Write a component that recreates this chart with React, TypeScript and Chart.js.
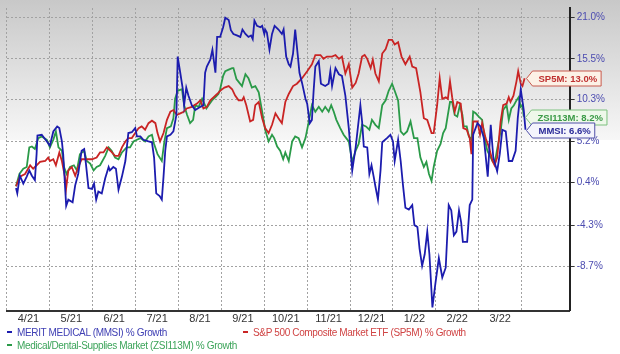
import React, { useEffect, useRef } from 'react';
import { Chart, registerables } from 'chart.js';

Chart.register(...registerables);

const FONT = '"Liberation Sans", Arial, Helvetica, sans-serif';

// x values are months since 1 Apr 2021; y values are % growth
const monthLabels = ['4/21', '5/21', '6/21', '7/21', '8/21', '9/21', '10/21', '11/21', '12/21', '1/22', '2/22', '3/22'];
const yTickLabels = [21.0, 15.5, 10.3, 5.2, 0.4, -4.3, -8.7];
const xMaxMonth = 13.12;
const yMinGrowth = -13.14;
const yMaxGrowth = 22.34;

const mmsiSeries: number[][] = [
  [0.21, -0.2], [0.24, -0.8], [0.30, 1.2], [0.38, 0.3], [0.46, 1.1], [0.52, 1.8], [0.58, 1.2], [0.65, 0.7], [0.69, 3.7], [0.71, 5.9],
  [0.81, 6.0], [0.93, 5.2], [1.00, 4.7], [1.08, 6.4], [1.17, 7.0], [1.22, 6.8], [1.28, 5.2], [1.31, 3.7], [1.38, -2.2], [1.43, -1.5],
  [1.53, -1.8], [1.59, 0.1], [1.66, 1.4], [1.74, 4.1], [1.80, 4.3], [1.84, 2.6], [1.90, -0.2], [1.98, -0.3], [2.03, 0.3], [2.08, -1.5],
  [2.13, -0.6], [2.21, -0.8], [2.29, 0.9], [2.37, 2.2], [2.40, 1.8], [2.48, 2.2], [2.54, 2.0], [2.60, -0.4], [2.68, 1.1], [2.76, 2.9],
  [2.83, 6.2], [2.91, 6.3], [2.99, 6.8], [3.03, 5.8], [3.11, 5.8], [3.18, 5.4], [3.30, 5.2], [3.38, 5.1], [3.43, 3.3], [3.48, -0.8],
  [3.56, -1.1], [3.61, -1.5], [3.65, 1.1], [3.69, 4.1], [3.73, 5.8], [3.81, 6.0], [3.88, 6.4], [3.95, 8.4], [3.98, 15.8], [4.04, 13.7],
  [4.10, 11.6], [4.13, 9.6], [4.18, 11.8], [4.23, 10.8], [4.31, 9.6], [4.39, 9.0], [4.51, 9.4], [4.58, 9.6], [4.62, 13.7], [4.66, 14.5],
  [4.74, 15.4], [4.79, 16.7], [4.86, 13.7], [4.90, 18.4], [4.97, 18.4], [5.04, 19.7], [5.09, 21.0], [5.17, 20.7], [5.22, 19.3], [5.28, 18.8],
  [5.36, 18.6], [5.44, 18.4], [5.49, 19.4], [5.56, 18.8], [5.63, 18.4], [5.69, 18.6], [5.73, 18.1], [5.77, 20.6], [5.83, 19.9], [5.91, 19.7],
  [5.95, 19.9], [6.00, 18.8], [6.02, 19.4], [6.06, 19.0], [6.12, 16.7], [6.18, 18.8], [6.24, 19.9], [6.33, 19.4], [6.41, 18.8], [6.45, 19.4],
  [6.51, 15.8], [6.57, 14.8], [6.61, 14.5], [6.67, 16.2], [6.72, 19.4], [6.78, 16.0], [6.82, 13.7], [6.88, 12.4], [6.96, 10.4], [7.00, 9.8],
  [7.06, 7.4], [7.11, 7.8], [7.15, 11.4], [7.19, 14.5], [7.27, 15.2], [7.32, 12.3], [7.42, 12.0], [7.50, 12.3], [7.54, 13.9], [7.58, 12.0],
  [7.66, 14.3], [7.74, 13.5], [7.81, 13.3], [7.89, 10.8], [7.97, 6.8], [8.05, 1.8], [8.13, 4.5], [8.24, 9.6], [8.28, 7.6], [8.32, 4.6],
  [8.40, 4.5], [8.45, 1.4], [8.50, 2.4], [8.55, 1.1], [8.59, 0.0], [8.65, -1.5], [8.71, 1.8], [8.75, 5.1], [8.86, 5.6], [8.94, 6.0],
  [9.00, 5.2], [9.04, 2.9], [9.12, 5.4], [9.18, 2.9], [9.23, 0.3], [9.29, -2.4], [9.37, -2.6], [9.45, -2.1], [9.50, -4.3], [9.57, -4.5],
  [9.62, -6.8], [9.68, -8.6], [9.74, -7.4], [9.80, -5.0], [9.85, -7.4], [9.92, -12.8], [9.99, -10.4], [10.07, -7.8], [10.15, -9.8], [10.23, -8.8],
  [10.30, -2.1], [10.36, -2.7], [10.42, -5.4], [10.48, -5.0], [10.54, -2.7], [10.59, -4.0], [10.63, -6.1], [10.73, -6.1], [10.79, -2.1], [10.85, -1.5],
  [10.87, 6.0], [10.97, 7.4], [11.04, 7.0], [11.12, 5.6], [11.21, 1.1], [11.28, 7.2], [11.34, 3.3], [11.39, 2.4], [11.43, 1.7], [11.49, 3.7],
  [11.55, 6.6], [11.63, 6.4], [11.70, 2.9], [11.78, 2.9], [11.86, 4.1], [11.91, 8.0], [11.98, 11.6], [12.05, 9.0], [12.09, 6.6],
];

const sp5mSeries: number[][] = [
  [0.21, 0.0], [0.30, 1.1], [0.42, 1.4], [0.54, 2.4], [0.61, 2.0], [0.69, 2.4], [0.77, 2.8], [0.89, 2.9], [0.96, 3.3], [1.00, 2.9],
  [1.08, 3.1], [1.14, 2.4], [1.22, 3.9], [1.28, 2.9], [1.35, 1.1], [1.38, -0.2], [1.43, 1.8], [1.51, 2.2], [1.59, 1.2], [1.66, 2.2],
  [1.74, 3.1], [1.86, 3.1], [1.98, 3.1], [2.09, 3.3], [2.17, 3.9], [2.25, 3.9], [2.33, 4.5], [2.41, 4.1], [2.52, 3.5], [2.60, 3.5],
  [2.68, 4.5], [2.76, 5.2], [2.83, 5.6], [2.91, 5.6], [2.99, 6.2], [3.07, 6.8], [3.14, 7.0], [3.22, 6.6], [3.30, 7.4], [3.38, 7.7],
  [3.46, 7.4], [3.51, 6.2], [3.57, 5.2], [3.65, 6.2], [3.73, 7.8], [3.81, 8.8], [3.88, 9.0], [3.96, 8.4], [4.04, 8.6], [4.12, 8.8],
  [4.19, 9.2], [4.31, 9.4], [4.43, 9.8], [4.51, 10.2], [4.58, 9.2], [4.66, 9.4], [4.74, 10.2], [4.82, 10.6], [4.90, 11.0], [4.97, 11.4],
  [5.07, 11.8], [5.17, 12.0], [5.25, 11.6], [5.32, 10.8], [5.40, 10.2], [5.48, 10.2], [5.52, 10.6], [5.58, 9.6], [5.67, 7.6], [5.74, 7.8],
  [5.79, 9.6], [5.87, 10.0], [5.95, 8.0], [6.02, 6.8], [6.10, 6.2], [6.18, 7.2], [6.26, 8.6], [6.33, 8.0], [6.41, 7.4], [6.49, 10.0],
  [6.57, 11.0], [6.67, 12.0], [6.76, 12.3], [6.88, 13.0], [7.00, 13.9], [7.11, 14.8], [7.19, 16.0], [7.31, 16.0], [7.38, 15.5], [7.46, 15.8],
  [7.58, 15.8], [7.66, 16.0], [7.74, 15.5], [7.81, 15.8], [7.89, 13.6], [7.97, 14.8], [8.05, 11.8], [8.13, 12.4], [8.20, 13.6], [8.28, 15.8],
  [8.34, 16.0], [8.40, 15.5], [8.48, 14.3], [8.53, 15.4], [8.59, 13.6], [8.67, 12.6], [8.75, 16.2], [8.83, 16.8], [8.90, 18.0], [8.98, 18.0],
  [9.04, 17.4], [9.12, 17.7], [9.20, 15.8], [9.29, 14.8], [9.39, 15.8], [9.45, 14.5], [9.54, 14.3], [9.64, 11.2], [9.72, 8.0], [9.80, 7.8],
  [9.90, 6.2], [9.95, 6.2], [10.03, 9.6], [10.09, 13.0], [10.15, 10.4], [10.23, 10.6], [10.28, 10.4], [10.33, 12.6], [10.38, 10.6], [10.44, 8.8],
  [10.50, 10.0], [10.58, 9.8], [10.64, 6.8], [10.72, 6.6], [10.79, 5.6], [10.83, 3.7], [10.87, 7.6], [10.97, 7.6], [11.03, 6.0], [11.08, 7.4],
  [11.16, 5.6], [11.24, 4.5], [11.32, 2.9], [11.37, 2.4], [11.43, 3.3], [11.51, 7.6], [11.57, 9.6], [11.65, 9.8], [11.70, 10.6], [11.74, 10.0],
  [11.81, 10.8], [11.88, 12.6], [11.92, 13.9], [11.98, 12.3], [12.02, 12.0], [12.07, 13.0],
];

const zsiSeries: number[][] = [
  [0.21, 0.0], [0.29, 1.4], [0.38, 2.0], [0.46, 2.2], [0.52, 4.5], [0.58, 4.6], [0.65, 4.3], [0.73, 5.6], [0.81, 5.8], [0.93, 5.4],
  [1.00, 4.5], [1.08, 5.4], [1.14, 6.4], [1.20, 4.5], [1.28, 4.1], [1.33, 2.2], [1.39, 1.4], [1.47, 2.2], [1.56, 2.4], [1.63, 1.8],
  [1.70, 3.7], [1.80, 4.1], [1.86, 2.9], [1.94, 2.6], [2.02, 1.8], [2.09, 2.2], [2.17, 2.4], [2.29, 3.5], [2.37, 4.5], [2.44, 4.1],
  [2.52, 3.3], [2.60, 3.1], [2.68, 3.9], [2.79, 4.5], [2.87, 4.5], [2.95, 5.2], [3.03, 5.4], [3.11, 5.6], [3.22, 5.2], [3.30, 5.8],
  [3.38, 6.0], [3.43, 4.9], [3.51, 3.7], [3.61, 2.9], [3.67, 5.2], [3.73, 6.8], [3.82, 7.0], [3.88, 8.0], [3.92, 10.4], [3.98, 11.4],
  [4.08, 11.6], [4.13, 9.6], [4.20, 8.4], [4.27, 7.4], [4.34, 7.8], [4.39, 9.6], [4.47, 9.4], [4.55, 10.4], [4.65, 9.2], [4.70, 9.6],
  [4.78, 10.2], [4.86, 10.6], [4.93, 11.0], [4.97, 11.6], [5.04, 13.3], [5.09, 13.9], [5.17, 14.1], [5.25, 14.3], [5.28, 14.3], [5.35, 12.9],
  [5.42, 12.4], [5.48, 12.0], [5.56, 13.5], [5.63, 13.0], [5.71, 11.8], [5.79, 12.0], [5.87, 11.2], [5.95, 8.8], [6.02, 6.6], [6.10, 5.2],
  [6.18, 6.0], [6.23, 5.6], [6.30, 4.6], [6.37, 4.1], [6.44, 3.1], [6.49, 3.9], [6.57, 2.9], [6.65, 5.2], [6.72, 5.8], [6.80, 5.6],
  [6.88, 4.5], [6.96, 5.6], [7.03, 7.4], [7.11, 9.6], [7.19, 8.8], [7.27, 9.4], [7.35, 8.8], [7.42, 9.4], [7.50, 8.8], [7.56, 9.6],
  [7.62, 8.8], [7.68, 7.8], [7.77, 6.8], [7.85, 6.0], [7.91, 5.6], [7.97, 5.2], [8.05, 2.8], [8.13, 4.1], [8.20, 4.9], [8.28, 7.2],
  [8.37, 7.0], [8.45, 6.6], [8.51, 7.8], [8.59, 7.2], [8.67, 6.8], [8.75, 9.6], [8.83, 10.2], [8.90, 11.4], [8.98, 12.3], [9.04, 11.4],
  [9.12, 10.2], [9.18, 6.4], [9.25, 6.0], [9.33, 6.4], [9.41, 7.6], [9.49, 5.6], [9.57, 5.6], [9.64, 3.3], [9.72, 2.2], [9.78, 2.8],
  [9.84, 1.4], [9.90, 0.6], [9.95, 2.2], [10.03, 4.1], [10.11, 4.9], [10.17, 6.2], [10.23, 6.8], [10.28, 8.4], [10.33, 10.0], [10.38, 10.0],
  [10.44, 8.4], [10.50, 8.2], [10.56, 9.6], [10.62, 8.4], [10.65, 7.0], [10.72, 7.0], [10.77, 5.8], [10.83, 5.4], [10.87, 8.8], [10.93, 8.6],
  [11.00, 8.2], [11.08, 7.8], [11.13, 5.8], [11.20, 4.1], [11.26, 3.5], [11.32, 2.9], [11.37, 2.6], [11.43, 4.3], [11.51, 6.4], [11.57, 9.0],
  [11.65, 9.6], [11.70, 7.8], [11.76, 9.2], [11.82, 9.6], [11.88, 10.2], [11.93, 10.6], [11.98, 9.4], [12.02, 9.6], [12.05, 8.2],
];

const seriesInfo = [
  {
    code: 'MMSI', name: 'MERIT MEDICAL (MMSI) % Growth', points: mmsiSeries,
    line: '#1c1cae', legendText: '#4040b4', tagText: '#2a2a98', tagFill: '#f4f4fc', tagBorder: '#5050a8',
  },
  {
    code: 'SP5M', name: 'S&P 500 Composite Market ETF (SP5M) % Growth', points: sp5mSeries,
    line: '#c92424', legendText: '#d04444', tagText: '#bf3030', tagFill: '#fcf1e6', tagBorder: '#c85a4e',
  },
  {
    code: 'ZSI113M', name: 'Medical/Dental-Supplies Market (ZSI113M) % Growth', points: zsiSeries,
    line: '#2a9a48', legendText: '#3ca45a', tagText: '#3a9a46', tagFill: '#eef8ea', tagBorder: '#7cc07e',
  },
];

const legendLayout = [
  { left: 7, top: 327 },
  { left: 243, top: 327 },
  { left: 7, top: 340 },
];

const bgPlugin = {
  id: 'zbg',
  beforeDraw(chart: any) {
    const { ctx, width, height } = chart;
    ctx.save();
    ctx.fillStyle = '#ffffff';
    ctx.fillRect(0, 0, width, height);
    const g = ctx.createLinearGradient(0, 0, 0, 140);
    g.addColorStop(0, '#c8c8c8');
    g.addColorStop(1, '#f7f7f7');
    ctx.fillStyle = g;
    ctx.fillRect(0, 0, width, 140);
    ctx.restore();
  },
};

const tagPlugin = {
  id: 'endTags',
  afterDatasetsDraw(chart: any) {
    const ctx = chart.ctx;
    ctx.save();
    ctx.font = `bold 9.5px ${FONT}`;
    ctx.textBaseline = 'middle';
    ctx.lineWidth = 1;
    [1, 2, 0].forEach((di) => {
      const s = seriesInfo[di];
      const meta = chart.getDatasetMeta(di);
      const el = meta.data[meta.data.length - 1];
      if (!el) return;
      const last = s.points[s.points.length - 1][1];
      const text = `${s.code}: ${last.toFixed(1)}%`;
      const tw = ctx.measureText(text).width;
      const x0 = Math.round(el.x) + 1.5;
      const y0 = Math.round(el.y) + 0.5;
      const h = 15;
      const tip = 6;
      const right = x0 + 12 + tw + 4;
      ctx.beginPath();
      ctx.moveTo(x0, y0);
      ctx.lineTo(x0 + tip, y0 - h / 2);
      ctx.lineTo(right, y0 - h / 2);
      ctx.lineTo(right, y0 + h / 2);
      ctx.lineTo(x0 + tip, y0 + h / 2);
      ctx.closePath();
      ctx.fillStyle = s.tagFill;
      ctx.fill();
      ctx.strokeStyle = s.tagBorder;
      ctx.stroke();
      ctx.fillStyle = s.tagText;
      ctx.fillText(text, x0 + 12, y0 + 0.5);
    });
    ctx.restore();
  },
};

export default function App() {
  const canvasRef = useRef<HTMLCanvasElement | null>(null);

  useEffect(() => {
    const canvas = canvasRef.current;
    if (!canvas) return;
    const chart = new Chart(canvas, {
      type: 'line',
      data: {
        datasets: seriesInfo.map((s) => ({
          label: s.name,
          data: s.points.map(([m, g]) => ({ x: m, y: 100 + g })),
          borderColor: s.line,
          backgroundColor: s.line,
          borderWidth: 1.8,
          pointRadius: 0,
          tension: 0,
          fill: false,
        })),
      },
      options: {
        responsive: false,
        animation: false,
        devicePixelRatio: 1,
        layout: { padding: { left: 7, right: 13, top: 0, bottom: 26 } },
        plugins: { legend: { display: false }, tooltip: { enabled: false } },
        scales: {
          x: {
            type: 'linear',
            min: 0,
            max: xMaxMonth,
            bounds: 'data',
            afterBuildTicks: (axis: any) => {
              axis.ticks = monthLabels.map((_, i) => ({ value: i + 0.5 }));
            },
            ticks: {
              autoSkip: false,
              maxRotation: 0,
              padding: 2,
              color: '#333333',
              font: { family: FONT, size: 11 },
              callback: (_v: any, i: number) => monthLabels[i],
            },
            grid: { offset: true, drawTicks: false, color: '#a2a2a2', lineWidth: 1 },
            border: { display: true, color: '#333333', width: 2, dash: [2, 2] },
          },
          y: {
            type: 'logarithmic',
            position: 'right',
            min: 100 + yMinGrowth,
            max: 100 + yMaxGrowth,
            bounds: 'data',
            afterBuildTicks: (axis: any) => {
              axis.ticks = yTickLabels.map((v) => ({ value: 100 + v }));
            },
            ticks: {
              padding: 2,
              color: '#4b4bb0',
              font: { family: FONT, size: 10 },
              callback: (v: any) => (Number(v) - 100).toFixed(1) + '%',
            },
            grid: {
              color: '#a2a2a2',
              lineWidth: 1,
              drawTicks: true,
              tickLength: 5,
              tickColor: '#333333',
              tickWidth: 1,
              tickBorderDash: [],
            },
            border: { display: true, color: '#222222', width: 2, dash: [2, 2] },
          },
        },
      } as any,
      plugins: [bgPlugin, tagPlugin],
    });
    return () => chart.destroy();
  }, []);

  return (
    <div style={{ position: 'fixed', left: 0, top: 0, width: 620, height: 354, background: '#fff', overflow: 'hidden' }}>
      <canvas ref={canvasRef} width={620} height={354} style={{ display: 'block', width: 620, height: 354 }} />
      {seriesInfo.map((s, i) => (
        <div
          key={s.code}
          style={{
            position: 'absolute',
            left: legendLayout[i].left,
            top: legendLayout[i].top,
            height: 12,
            lineHeight: '12px',
            fontFamily: FONT,
            fontSize: 10,
            letterSpacing: '-0.35px',
            color: s.legendText,
            whiteSpace: 'nowrap',
          }}
        >
          <span
            style={{
              display: 'inline-block',
              width: 5,
              height: 2,
              background: s.line,
              verticalAlign: 'middle',
              marginRight: 5,
              marginBottom: 2,
            }}
          />
          {s.name}
        </div>
      ))}
    </div>
  );
}
